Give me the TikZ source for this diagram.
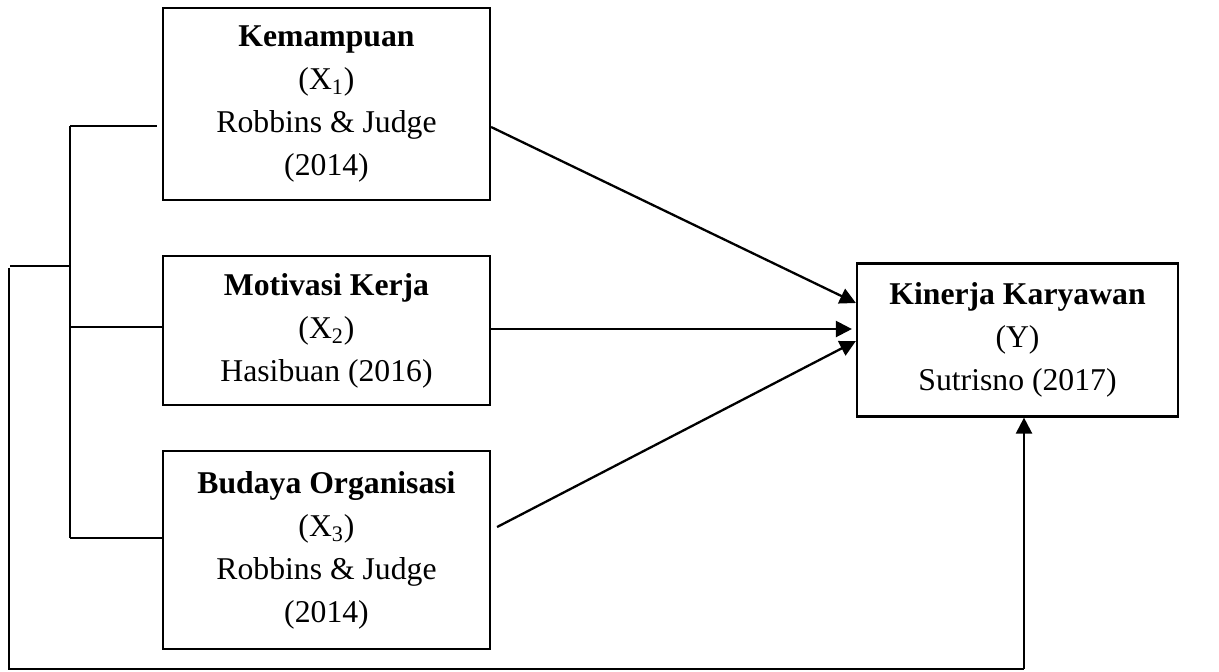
\documentclass[tikz,border=0pt]{standalone}
\usepackage{fontspec}
\setmainfont{Liberation Serif}
\usetikzlibrary{arrows.meta}
\tikzset{
  box/.style={draw, line width=1.1pt, inner sep=0pt, align=center,
    font=\fontsize{15.85}{21.5}\selectfont},
  ln/.style={line width=1.15pt},
  arr/.style={line width=1.15pt, -{Triangle[length=8pt,width=8pt]}}
}
\begin{document}
\begin{tikzpicture}[x=0.5pt,y=-0.5pt]
\useasboundingbox (0,0) rectangle (1219,671);
\node[box, minimum width=163.5pt, minimum height=96pt] (b1) at (326.5,104)
  {\textbf{Kemampuan}\\(X\textsubscript{1})\\Robbins \& Judge\\(2014)};
\node[box, minimum width=163.5pt, minimum height=74.5pt] (b2) at (326.5,330.5)
  {\textbf{Motivasi Kerja}\\(X\textsubscript{2})\\Hasibuan (2016)};
\node[box, minimum width=163.5pt, minimum height=99pt] (b3) at (326.5,550)
  {\textbf{Budaya Organisasi}\\(X\textsubscript{3})\\Robbins \& Judge\\(2014)};
\node[box, minimum width=160.5pt, minimum height=76.5pt] (y) at (1017.5,340)
  {\textbf{Kinerja Karyawan}\\(Y)\\Sutrisno (2017)};
% arrows to Y
\draw[arr] ([yshift=-11.5pt]b1.east) -- ([yshift=18.5pt]y.west);
\draw[arr] ([yshift=0.75pt]b2.east) -- ([xshift=-2pt,yshift=5.5pt]y.west);
\draw[arr] ([xshift=3pt,yshift=11.5pt]b3.east) -- ([yshift=-0.5pt]y.west);
% inner bracket
\coordinate (ct) at (70,126);
\coordinate (cm) at (70,327);
\coordinate (cb) at (70,538);
\coordinate (co) at (70,266);
\draw[ln] (ct) -- (cb);
\draw[ln] (ct) -- ([xshift=-2.5pt]b1.west |- ct);
\draw[ln] (cm) -- (b2.west |- cm);
\draw[ln] (cb) -- (b3.west |- cb);
% outer loop
\coordinate (oa) at (10,266);
\coordinate (ob) at (9,669);
\coordinate (oc) at (1024,669);
\draw[ln] (co) -- (oa);
\draw[ln] (9,268) -- (ob) -- (oc);
\draw[arr] (oc) -- (oc |- y.south);
\end{tikzpicture}
\end{document}
